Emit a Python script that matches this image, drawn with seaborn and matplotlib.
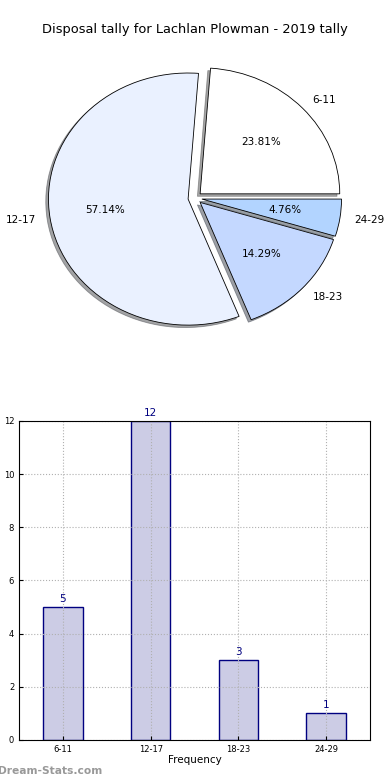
import pandas as pd
import matplotlib
matplotlib.use('Agg')
import matplotlib.pyplot as plt
import seaborn as sns

# --------------------------
# Data
# --------------------------
categories = ['6-11', '12-17', '18-23', '24-29']
counts = [5, 12, 3, 1]
pie_colors = ['#FFFFFF', '#EAF1FF', '#C4D8FF', '#B2D4FF']
explode = [0.05, 0.05, 0.05, 0.05]
y_ticks = [0, 2, 4, 6, 8, 10, 12]

df = pd.DataFrame({'range': categories, 'count': counts})

# --------------------------
# Style (old matplotlib look)
# --------------------------
sns.set_style('white', rc={
    'axes.grid': True,
    'grid.linestyle': ':',
    'grid.color': '#b0b0b0',
    'grid.linewidth': 1.0,
    'axes.edgecolor': 'black',
    'axes.linewidth': 1.0,
    'axes.labelcolor': 'black',
    'text.color': 'black',
    'xtick.color': 'black',
    'ytick.color': 'black',
    'xtick.direction': 'in',
    'ytick.direction': 'in',
    'xtick.bottom': True,
    'ytick.left': True,
})
plt.rcParams['font.family'] = ['DejaVu Sans']

fig = plt.figure(figsize=(3.9, 7.8), dpi=100)
fig.suptitle('Disposal tally for Lachlan Plowman - 2019 tally', fontsize=9.4, y=0.97)

# --------------------------
# Pie chart
# --------------------------
ax1 = fig.add_axes([0.0525, 0.544, 0.895, 0.404])
wedges, texts, autotexts = ax1.pie(
    counts, labels=categories, colors=pie_colors, explode=explode,
    autopct='%1.2f%%', shadow={'ox': -0.014, 'oy': -0.014, 'shade': 0.7},
    startangle=0,
    wedgeprops={'edgecolor': 'black', 'linewidth': 0.6},
    textprops={'fontsize': 7.5, 'color': 'black'},
)
ax1.set_aspect('auto')
ax1.set_xlim(-1.25, 1.25)
ax1.set_ylim(-1.25, 1.25)
ax1.grid(False)

# --------------------------
# Bar chart
# --------------------------
ax2 = fig.add_axes([0.049, 0.0513, 0.9, 0.409])
sns.barplot(data=df, x='range', y='count', color='#CCCCE5', saturation=1,
            edgecolor='#000080', linewidth=1.0, width=0.45, ax=ax2)
for i, v in enumerate(counts):
    ax2.text(i, v + 0.12, str(v), ha='center', va='bottom', color='#000080', fontsize=7.5)
ax2.set_ylim(0, 12)
ax2.set_xlim(-0.5, 3.5)
ax2.set_yticks(y_ticks)
ax2.tick_params(labelsize=6, length=3)
ax2.set_xlabel('Frequency', fontsize=7.5, labelpad=1)
ax2.set_ylabel('Disposal Tally', fontsize=7.5, labelpad=2)
ax2.set_axisbelow(False)
ax2.grid(True, axis='both')
for sp in ax2.spines.values():
    sp.set_zorder(4)

fig.text(-0.005, 0.008, 'Dream-Stats.com', fontsize=7.7, color='#999999', fontweight='bold')

fig.savefig('out.png', dpi=100, facecolor='white')
